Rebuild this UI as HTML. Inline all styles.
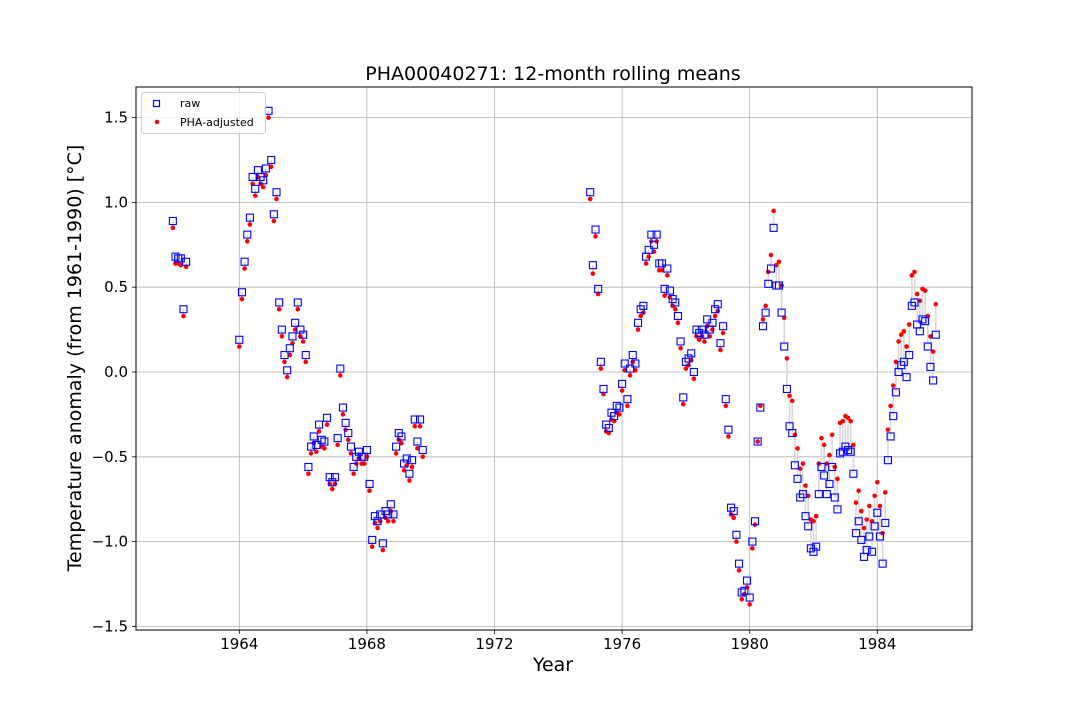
<!DOCTYPE html>
<html><head><meta charset="utf-8">
<style>
html,body{margin:0;padding:0;background:#fff;}
svg text{font-family:"DejaVu Sans","Liberation Sans",sans-serif;fill:#000;}
</style></head>
<body>
<svg id="chart" width="1080" height="720" viewBox="0 0 1080 720" xmlns="http://www.w3.org/2000/svg">
<rect width="1080" height="720" fill="#fff"/>
<g id="grid"></g>
<g id="links"></g>
<g id="adjpts"></g>
<g id="rawpts"></g>
<rect x="136" y="87" width="836" height="543" fill="none" stroke="#000" stroke-width="1"/>
<g id="ticks"></g>
<text x="553" y="80" font-size="19" text-anchor="middle">PHA00040271: 12-month rolling means</text>
<text x="553" y="671" font-size="19" text-anchor="middle">Year</text>
<text transform="translate(81,358) rotate(-90)" font-size="19" text-anchor="middle">Temperature anomaly (from 1961-1990) [°C]</text>
<g>
<rect x="141.5" y="92.5" width="124" height="41" rx="3" fill="#fff" fill-opacity="0.8" stroke="#ccc"/>
<rect x="153.5" y="100.5" width="6" height="6" fill="none" stroke="#0000ff" stroke-width="1.2"/>
<text x="180" y="107" font-size="11">raw</text>
<circle cx="157" cy="122" r="2.2" fill="#ff0000"/>
<text x="180" y="126" font-size="11">PHA-adjusted</text>
</g>
</svg>
<script>
const segStart = [1961.917, 1964.0, 1975.0];
const raw1 = [0.89,0.68,0.67,0.67,0.37,0.65];
const adj1 = [0.85,0.64,0.64,0.63,0.33,0.62];
const raw2 = [0.19,0.47,0.65,0.81,0.91,1.15,1.08,1.19,1.15,1.13,1.20,1.54,1.25,0.93,1.06,0.41,0.25,0.10,0.01,0.14,0.21,0.29,0.41,0.25,0.22,0.10,
-0.56,-0.44,-0.38,-0.43,-0.31,-0.40,-0.41,-0.27,-0.62,-0.65,-0.62,-0.39,0.02,-0.21,-0.30,-0.36,-0.44,-0.56,-0.50,-0.47,-0.50,-0.50,-0.46,-0.66,-0.99,-0.85,-0.88,-0.84,-1.01,-0.82,-0.84,-0.78,-0.84,-0.44,-0.36,-0.38,-0.54,-0.51,-0.60,-0.52,-0.28,-0.41,-0.28,-0.46];
const adj2 = [0.15,0.43,0.61,0.77,0.87,1.11,1.04,1.15,1.11,1.09,1.16,1.50,1.21,0.89,1.02,0.37,0.21,0.06,-0.03,0.10,0.17,0.25,0.37,0.21,0.18,0.06,
-0.60,-0.48,-0.42,-0.47,-0.35,-0.44,-0.45,-0.31,-0.66,-0.69,-0.66,-0.43,-0.02,-0.25,-0.34,-0.40,-0.48,-0.60,-0.54,-0.51,-0.54,-0.54,-0.50,-0.70,-1.03,-0.89,-0.92,-0.88,-1.05,-0.86,-0.88,-0.82,-0.88,-0.48,-0.40,-0.42,-0.58,-0.55,-0.64,-0.56,-0.32,-0.45,-0.32,-0.50];
const raw3 = [1.06,0.63,0.84,0.49,0.06,-0.10,-0.31,-0.33,-0.24,-0.26,-0.20,-0.21,-0.07,0.05,-0.16,0.02,0.10,0.05,0.29,0.37,0.39,0.68,0.72,0.81,0.75,0.81,0.64,0.64,0.49,0.61,0.48,0.43,0.41,0.33,0.18,-0.15,0.06,0.08,0.11,0.00,0.25,0.23,0.25,0.22,0.31,0.25,0.29,0.37,0.40,0.17,0.27,-0.16,-0.34,-0.80,-0.82,-0.96,-1.13,-1.30,-1.29,-1.23,
-1.33,-1.00,-0.88,-0.41,-0.21,0.27,0.35,0.52,0.61,0.85,0.51,0.51,0.35,0.15,-0.10,-0.32,-0.36,-0.55,-0.63,-0.74,-0.72,-0.85,-0.91,-1.04,-1.06,-1.03,-0.72,-0.56,-0.61,-0.72,-0.66,-0.56,-0.74,-0.81,-0.48,-0.47,-0.44,-0.46,-0.47,-0.60,-0.95,-0.88,-0.99,-1.09,-1.05,-0.97,-1.06,-0.91,-0.83,-0.97,-1.13,-0.89,-0.52,-0.38,-0.26,-0.12,0.00,0.04,0.06,-0.03,0.10,0.39,0.41,0.28,0.24,0.31,0.30,0.15,0.03,-0.05,0.22];
const adj3 = [1.02,0.58,0.80,0.46,0.02,-0.13,-0.35,-0.36,-0.28,-0.29,-0.24,-0.25,-0.11,0.01,-0.20,-0.02,0.06,0.01,0.25,0.33,0.35,0.64,0.68,0.77,0.71,0.77,0.60,0.60,0.45,0.57,0.44,0.39,0.37,0.29,0.14,-0.19,0.02,0.04,0.07,-0.04,0.21,0.19,0.21,0.18,0.27,0.21,0.25,0.33,0.36,0.13,0.23,-0.20,-0.38,-0.84,-0.86,-1.00,-1.17,-1.34,-1.31,-1.27,
-1.37,-1.04,-0.90,-0.41,-0.20,0.31,0.39,0.59,0.69,0.95,0.63,0.65,0.51,0.32,0.08,-0.14,-0.17,-0.37,-0.45,-0.57,-0.54,-0.67,-0.73,-0.87,-0.88,-0.85,-0.54,-0.39,-0.43,-0.54,-0.49,-0.37,-0.56,-0.63,-0.30,-0.29,-0.26,-0.27,-0.29,-0.43,-0.77,-0.70,-0.82,-0.92,-0.87,-0.79,-0.88,-0.73,-0.65,-0.79,-0.95,-0.71,-0.34,-0.20,-0.08,0.06,0.18,0.22,0.24,0.15,0.28,0.57,0.59,0.46,0.42,0.49,0.48,0.33,0.21,0.12,0.40];
const xTicks = [1964,1968,1972,1976,1980,1984];
const yTicks = [-1.5,-1.0,-0.5,0.0,0.5,1.0,1.5];
const yTickLabels = ["\u22121.5","\u22121.0","\u22120.5","0.0","0.5","1.0","1.5"];

const NS = "http://www.w3.org/2000/svg";
function X(yr){ return 239.3 + (yr - 1964) * 31.9; }
function Y(v){ return 372 - v * 169.6; }
function mk(tag, attrs, parent){ const e = document.createElementNS(NS, tag); for (const k in attrs) e.setAttribute(k, attrs[k]); parent.appendChild(e); return e; }

const grid = document.getElementById('grid'), ticks = document.getElementById('ticks');
xTicks.forEach((t) => {
  const x = X(t);
  const g = mk('line', {x1:x, x2:x, y1:87, y2:630, stroke:'#b0b0b0', 'stroke-width':0.8}, grid);
  
  
  const tk = mk('line', {x1:x, x2:x, y1:630, y2:634, stroke:'#000', 'stroke-width':0.8}, ticks);
  
  
  const lb = mk('text', {x:x, y:649, 'font-size':15, 'text-anchor':'middle'}, ticks);
  lb.textContent = String(t);
  
  
});
yTicks.forEach((t, i) => {
  const y = Y(t);
  const g = mk('line', {x1:136, x2:972, y1:y, y2:y, stroke:'#b0b0b0', 'stroke-width':0.8}, grid);
  
  
  const tk = mk('line', {x1:132, x2:136, y1:y, y2:y, stroke:'#000', 'stroke-width':0.8}, ticks);
  
  
  const lb = mk('text', {x:128, y:y+5, 'font-size':15, 'text-anchor':'end'}, ticks);
  lb.textContent = yTickLabels[i];
  
  
});

const links = document.getElementById('links'), adjG = document.getElementById('adjpts'), rawG = document.getElementById('rawpts');
const segsRaw = [raw1, raw2, raw3], segsAdj = [adj1, adj2, adj3];
segsRaw.forEach((rawArr, s) => {
  const adjArr = segsAdj[s];
  rawArr.forEach((v, i) => {
    const x = X(segStart[s] + i / 12);
    const yr = Y(v), ya = Y(adjArr[i]);
    const ln = mk('line', {x1:x, x2:x, y1:yr, y2:ya, stroke:'#d8d8d8', 'stroke-width':1.6}, links);
    
    
    const c = mk('circle', {cx:x, cy:ya, r:2.3, fill:'#ff0000'}, adjG);
    
    
    const r = mk('rect', {x:x-3.5, y:yr-3.5, width:7, height:7, fill:'none', stroke:'#0000ff', 'stroke-width':1.1}, rawG);
    
    
  });
});
</script>
</body></html>
